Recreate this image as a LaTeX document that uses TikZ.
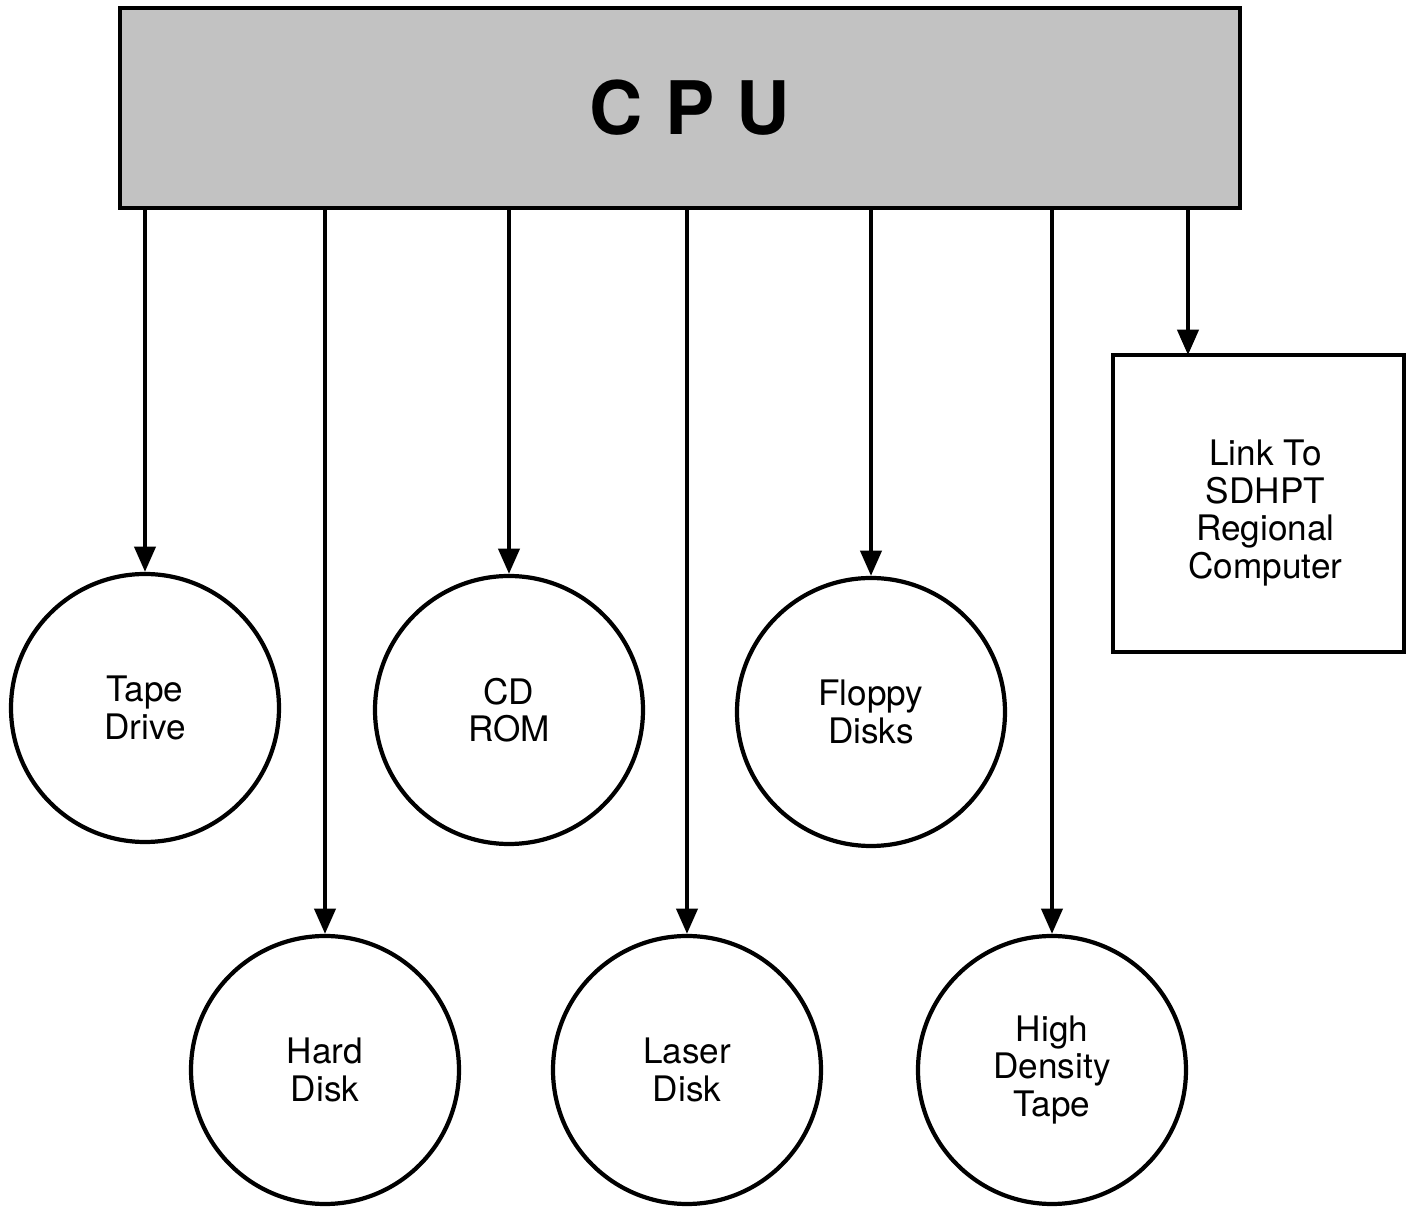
\documentclass[tikz,border=0pt]{standalone}
\usepackage{fontspec}
\setmainfont{TeX Gyre Heros}
\usetikzlibrary{arrows.meta}

\begin{document}
\begin{tikzpicture}[
    dev/.style={circle, draw, line width=1.2pt, minimum size=2.68cm, inner sep=0pt,
      align=center, font=\fontsize{10}{10.7}\selectfont},
    feed/.style={line width=1.1pt, -{Triangle[length=7.2pt,width=6pt]}}]
  \useasboundingbox (0,0) rectangle (14.1,-12.07);

  \node[draw, line width=1.2pt, fill=black!24, minimum width=11.2cm, minimum height=2cm,
    font=\fontsize{21}{24}\selectfont\bfseries] (cpu) at (6.8,-1.08) {\hspace{0.2cm}C\hspace{0.3em}P\hspace{0.3em}U};

  \node[dev] (tape) at (1.45,-7.08) {Tape\\Drive};
  \node[dev] (cdrom) at (5.09,-7.1) {CD\\ROM};
  \node[dev] (floppy) at (8.71,-7.12) {Floppy\\Disks};
  \node[dev] (hard) at (3.25,-10.7) {Hard\\Disk};
  \node[dev] (laser) at (6.87,-10.7) {Laser\\Disk};
  \node[dev] (hdtape) at (10.52,-10.7) {High\\Density\\Tape};

  \node[draw, line width=1.2pt, minimum width=2.91cm, minimum height=2.97cm,
    font=\fontsize{10}{10.7}\selectfont] (link) at (12.585,-5.035)
    {\hspace{0.14cm}\raisebox{-0.11cm}[\height][\depth]{\begin{tabular}{@{}c@{}}Link To\\SDHPT\\Regional\\Computer\end{tabular}}};
  \coordinate (linkin) at (11.88,-3.55);

  \foreach \d in {tape,cdrom,floppy,hard,laser,hdtape}
    \draw[feed] (cpu.south -| \d.north) -- (\d.north);
  \draw[feed] (cpu.south -| linkin) -- (linkin);
\end{tikzpicture}
\end{document}
